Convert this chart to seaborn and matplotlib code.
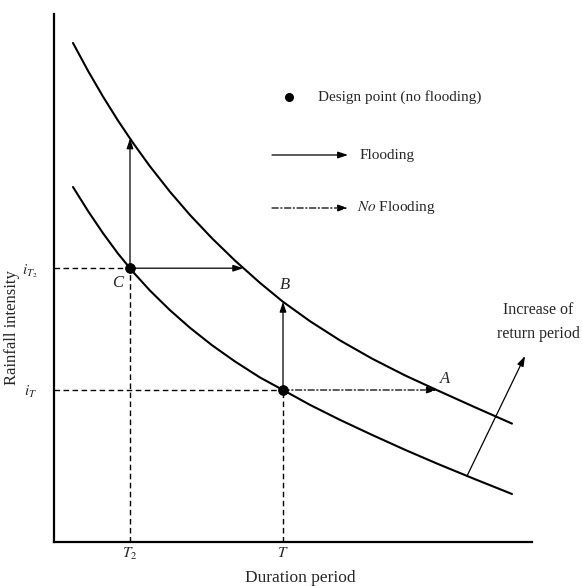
import matplotlib
matplotlib.use("Agg")
import matplotlib.pyplot as plt
import seaborn as sns
import pandas as pd

# Intensity-duration curves (duration in min, intensity in mm/h)
duration_upper = [4.75, 8.5, 12.25, 16, 19.75, 24, 29, 34, 39.5, 45.25, 51.5, 57.25,
                  64, 71.5, 79.5, 87.75, 96, 105.25, 114.5]
intensity_upper = [124.75, 117.8, 111.35, 105.35, 99.78, 93.9, 87.55, 81.75, 75.93, 70.35,
                   64.78, 60.05, 55.2, 50.4, 45.85, 41.65, 37.85, 33.68, 29.6]
duration_lower = [4.75, 8.5, 12.25, 16, 19.75, 24, 29, 34, 39.5, 45.25, 51.5, 57.25,
                  64, 71.5, 79.5, 87.75, 96, 105.25, 114.5]
intensity_lower = [88.75, 82.75, 77.2, 72.1, 67.53, 62.85, 57.95, 53.55, 49.2, 45.13,
                   41.13, 38, 34.28, 30.53, 26.78, 23.05, 19.5, 15.7, 12.0]

# Design points
T2, T = 19, 57.25
i_T2, i_T = 68.45, 38
point_duration = [T2, T]
point_intensity = [i_T2, i_T]

# Reference marks on the upper curve
i_up_T2 = 100.9       # upper curve at T2
t_up_iT2 = 47.3       # upper curve at i_T2
i_B = 60.05           # B: upper curve at T
t_A = 95.7            # A: upper curve at i_T

tick_x = [T2, T]
tick_x_labels = ["$T_2$", "$T$"]
tick_y = [i_T, i_T2]
tick_y_labels = ["$i_T$", "$i_{T_2}$"]

sns.set_style("white")
plt.rcParams["font.family"] = ["Liberation Serif", "DejaVu Serif"]
plt.rcParams["mathtext.fontset"] = "stix"

W, H = 582, 586
fig = plt.figure(figsize=(W / 100, H / 100), dpi=100)
ax = fig.add_axes([54 / W, 44 / H, 478 / W, 528 / H])
ax.set_xlim(0, 119.5)
ax.set_ylim(0, 132)

curves = pd.concat([
    pd.DataFrame({"duration": duration_upper, "intensity": intensity_upper, "curve": "upper"}),
    pd.DataFrame({"duration": duration_lower, "intensity": intensity_lower, "curve": "lower"}),
])
sns.lineplot(data=curves, x="duration", y="intensity", units="curve", estimator=None,
             sort=False, color="black", linewidth=1.5, ax=ax, legend=False)

# Dashed guide lines to the axes
dash = dict(color="black", linewidth=1.0, linestyle=(0, (4, 2.5)))
ax.plot([0, T2], [i_T2, i_T2], **dash)
ax.plot([0, T], [i_T, i_T], **dash)
ax.plot([T2, T2], [0, i_T2], **dash)
ax.plot([T, T], [0, i_T], **dash)

solid_arrow = dict(arrowstyle="-|>,head_length=0.6,head_width=0.2", color="black",
                   linewidth=0.9, shrinkA=0, shrinkB=0)
dashdot_arrow = dict(arrowstyle="-|>,head_length=0.6,head_width=0.2", color="black",
                     linewidth=0.9, linestyle=(0, (5, 2, 1, 2)), shrinkA=0, shrinkB=0)

# Flooding arrows
ax.annotate("", xy=(T2, i_up_T2), xytext=(T2, i_T2), arrowprops=solid_arrow)
ax.annotate("", xy=(t_up_iT2, i_T2), xytext=(T2, i_T2), arrowprops=solid_arrow)
ax.annotate("", xy=(T, i_B), xytext=(T, i_T), arrowprops=solid_arrow)
# No-flooding arrow
ax.annotate("", xy=(t_A, i_T), xytext=(T, i_T), arrowprops=dashdot_arrow)

sns.scatterplot(x=point_duration, y=point_intensity, color="black", s=50,
                edgecolor="black", zorder=5, ax=ax)

# Point labels
ax.text(T2 - 3.2, i_T2 - 3.8, "C", style="italic", fontsize=12, ha="center", va="center")
ax.text(T + 0.6, i_B + 4.2, "B", style="italic", fontsize=12, ha="center", va="center")
ax.text(t_A + 2.0, i_T + 2.8, "A", style="italic", fontsize=12, ha="center", va="center")

# Increase of return period
ax.annotate("", xy=(117.75, 46.5), xytext=(103.25, 16.5),
            arrowprops=dict(arrowstyle="-|>,head_length=0.6,head_width=0.2", color="black",
                            linewidth=0.9, shrinkA=0, shrinkB=0))
ax.text(121, 55.0, "Increase of\nreturn period", fontsize=11.5, ha="center", va="center",
        linespacing=1.6, clip_on=False)

# Key
ax.scatter([58.75], [111.25], color="black", s=30, zorder=5)
ax.text(66, 111.25, "Design point (no flooding)", fontsize=11, va="center")
ax.annotate("", xy=(73.5, 96.75), xytext=(54.5, 96.75), arrowprops=solid_arrow)
ax.text(76.5, 96.75, "Flooding", fontsize=11, va="center")
ax.annotate("", xy=(73.5, 83.5), xytext=(54.5, 83.5), arrowprops=dashdot_arrow)
ax.text(75.75, 83.5, "$\\it{No}$ Flooding", fontsize=11, va="center")

# Axes styling
for side in ["top", "right"]:
    ax.spines[side].set_visible(False)
for side in ["left", "bottom"]:
    ax.spines[side].set_color("black")
    ax.spines[side].set_linewidth(1.6)
ax.set_xticks(tick_x)
ax.set_xticklabels(tick_x_labels, fontsize=11)
ax.set_yticks(tick_y)
ax.set_yticklabels(tick_y_labels, fontsize=11)
ax.tick_params(axis="x", length=0, pad=3)
ax.tick_params(axis="y", length=0, pad=12)
ax.set_xlabel("")
ax.set_ylabel("")

fig.text(300 / W, 1 - 578 / H, "Duration period", fontsize=12.5, ha="center", va="center")
fig.text(12 / W, 1 - 328 / H, "Rainfall intensity", fontsize=12, ha="center", va="center",
         rotation=90)

fig.savefig("out.png", dpi=100)
